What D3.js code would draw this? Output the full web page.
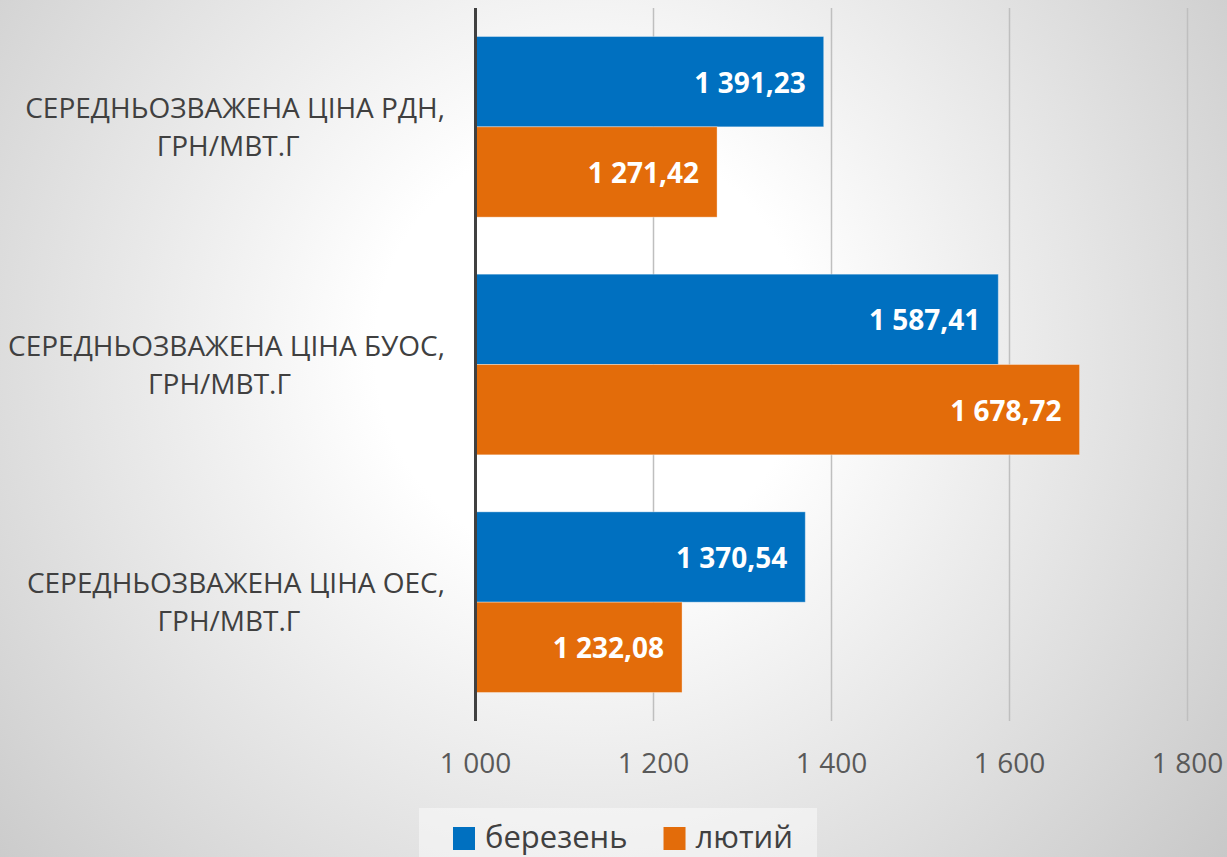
<!DOCTYPE html>
<html>
<head>
<meta charset="utf-8">
<script src="https://cdn.jsdelivr.net/npm/d3@7"></script>
<style>
  html, body { margin: 0; padding: 0; }
  body { width: 1227px; height: 857px; overflow: hidden; }
  svg text { font-family: "Open Sans", sans-serif; }
</style>
</head>
<body>
<svg id="chart" width="1227" height="857"></svg>
<script>
// chart data
const categories = [
    "СЕРЕДНЬОЗВАЖЕНА ЦІНА РДН, ГРН/МВТ.Г",
    "СЕРЕДНЬОЗВАЖЕНА ЦІНА БУОС, ГРН/МВТ.Г",
    "СЕРЕДНЬОЗВАЖЕНА ЦІНА ОЕС, ГРН/МВТ.Г"
];
const seriesNames = ["березень", "лютий"];
const berezen = [1391.23, 1587.41, 1370.54];
const liutyi = [1271.42, 1678.72, 1232.08];
const tickValues = [1000, 1200, 1400, 1600, 1800];

const seriesColors = ["#0070c0", "#e36c0a"];
const seriesValues = [berezen, liutyi];

const svg = d3.select("#chart");

// background: radial grey fade
const defs = svg.append("defs");
const grad = defs.append("radialGradient")
    .attr("id", "bg")
    .attr("gradientUnits", "userSpaceOnUse")
    .attr("cx", 590).attr("cy", 350).attr("r", 860);
grad.append("stop").attr("offset", 0).attr("stop-color", "#ffffff");
grad.append("stop").attr("offset", 0.25).attr("stop-color", "#ffffff");
grad.append("stop").attr("offset", 1).attr("stop-color", "#c4c4c4");
svg.append("rect").attr("width", 1227).attr("height", 857).attr("fill", "url(#bg)");

const x = d3.scaleLinear().domain([1000, 1800]).range([475.5, 1187.5]);
const y = d3.scaleBand().domain(categories).range([8, 721]).paddingInner(0.24).paddingOuter(0.12);
const ySub = d3.scaleBand().domain(seriesNames).range([0, y.bandwidth()]);

const numFmt = (v, digits) => {
    const s = v.toFixed(digits).split(".");
    const intPart = s[0].replace(/\B(?=(\d{3})+(?!\d))/g, " ");
    return s[1] ? intPart + "," + s[1] : intPart;
};

// grid lines
svg.append("g")
    .attr("class", "grid")
    .selectAll("line")
    .data(tickValues.slice(1))
    .join("line")
    .attr("x1", d => x(d)).attr("x2", d => x(d))
    .attr("y1", 8).attr("y2", 721)
    .attr("stroke", "#bfbfbf")
    .attr("stroke-width", 1.5);

// tick labels
svg.append("g")
    .attr("class", "ticks")
    .selectAll("text")
    .data(tickValues)
    .join("text")
    .attr("x", d => x(d))
    .attr("y", 773)
    .attr("text-anchor", "middle")
    .attr("font-size", 28)
    .attr("fill", "#595959")
    .text(d => numFmt(d, 0));

// bars
const rows = [];
categories.forEach((c, i) => {
    seriesNames.forEach((s, j) => {
        rows.push({ cat: c, series: s, value: seriesValues[j][i], color: seriesColors[j] });
    });
});

const bars = svg.append("g").attr("class", "bars");
bars.selectAll("rect")
    .data(rows)
    .join("rect")
    .attr("x", x(1000))
    .attr("y", d => y(d.cat) + ySub(d.series))
    .attr("width", d => x(d.value) - x(1000))
    .attr("height", ySub.bandwidth())
    .attr("fill", d => d.color)
    .attr("stroke", "#ffffff")
    .attr("stroke-opacity", 0.35)
    .attr("stroke-width", 1);

bars.selectAll("text")
    .data(rows)
    .join("text")
    .attr("x", d => x(d.value) - 18)
    .attr("y", d => y(d.cat) + ySub(d.series) + ySub.bandwidth() / 2 + 11)
    .attr("text-anchor", "end")
    .attr("font-size", 28)
    .attr("font-weight", "bold")
    .attr("fill", "#ffffff")
    .text(d => numFmt(d.value, 2));

// vertical axis line
svg.append("line")
    .attr("x1", x(1000)).attr("x2", x(1000))
    .attr("y1", 8).attr("y2", 721)
    .attr("stroke", "#404040")
    .attr("stroke-width", 3);

// category labels, two centred lines, block right edge near the axis
const labels = svg.append("g").attr("class", "cat-labels");
categories.forEach(c => {
    const cut = c.indexOf(", ") + 1;
    const lines = [c.slice(0, cut), c.slice(cut + 1)];
    const cy = y(c) + y.bandwidth() / 2;
    const g = labels.append("g");
    const t = g.selectAll("text")
        .data(lines)
        .join("text")
        .attr("y", (d, i) => cy - 9 + i * 38)
        .attr("text-anchor", "middle")
        .attr("font-size", 28)
        .attr("fill", "#404040")
        .text(d => d);
    const w = d3.max(t.nodes(), n => n.getComputedTextLength());
    t.attr("x", (d, i) => 445 - w / 2 - (i === 1 ? 7 : 0));
});

// legend
const legend = svg.append("g").attr("class", "legend");
legend.append("rect")
    .attr("x", 419).attr("y", 808)
    .attr("width", 398).attr("height", 60)
    .attr("fill", "#ffffff")
    .attr("fill-opacity", 0.45);
let lx = 453;
seriesNames.forEach((s, j) => {
    legend.append("rect")
        .attr("x", lx).attr("y", 827)
        .attr("width", 22).attr("height", 23)
        .attr("fill", seriesColors[j]);
    const t = legend.append("text")
        .attr("x", lx + 32).attr("y", 848)
        .attr("font-size", 31)
        .attr("fill", "#404040")
        .text(s);
    lx += 32 + t.node().getComputedTextLength() + 36;
});
</script>
</body>
</html>
